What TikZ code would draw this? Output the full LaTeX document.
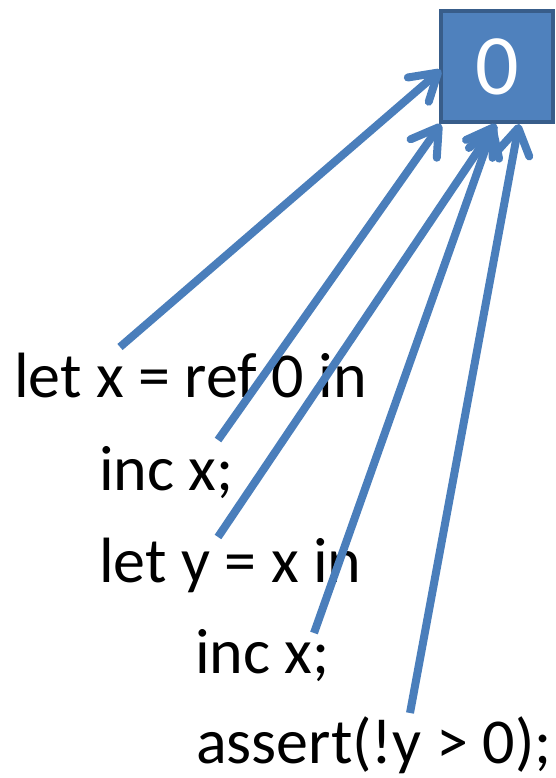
\documentclass[tikz,border=0pt]{standalone}
\usepackage{fontspec}
\setmainfont{Carlito}
\usetikzlibrary{arrows.meta}
\definecolor{boxfill}{HTML}{4F81BD}
\definecolor{boxline}{HTML}{385D8A}
\definecolor{arrowcol}{HTML}{4A7EBB}
\begin{document}
\begin{tikzpicture}[x=1pt,y=-1pt,
  code/.style={anchor=base west,inner sep=0pt,font=\fontsize{64}{70}\selectfont,text=black},
  ptr/.style={draw=arrowcol,line width=8pt,line cap=butt,
    -{Straight Barb[length=26pt,width=32pt,round]}},
  cell/.style={draw=boxline,fill=boxfill,line width=4pt,minimum width=112pt,minimum height=111pt,
    inner sep=0pt,text=white,font=\fontsize{86}{90}\selectfont}]
\useasboundingbox (0,0) rectangle (555,778);
\node[cell] (box) at (497,67) {0};
\node[code] (l1) at (14,397) {let x = ref 0 in};
\node[code] (l2) at (99,490) {inc x;};
\node[code] (l3) at (99,582) {let y = x in};
\node[code] (l4) at (195,673) {inc x;};
\node[code] (l5) at (196,763) {assert(!y > 0);};
\coordinate (s1) at (120,347);
\coordinate (s2) at (218,440);
\coordinate (s3) at (218,537);
\coordinate (s4) at (314,633);
\coordinate (s5) at (410,713);
\coordinate (e1) at (441,70);
\coordinate (e2) at (441,124);
\coordinate (e3) at (496,124);
\coordinate (e4) at (494,125);
\coordinate (e5) at (519,124);
\draw[ptr] (s1) -- (e1);
\draw[ptr] (s2) -- (e2);
\draw[ptr] (s3) -- (e3);
\draw[ptr] (s4) -- (e4);
\draw[ptr] (s5) -- (e5);
\end{tikzpicture}
\end{document}
